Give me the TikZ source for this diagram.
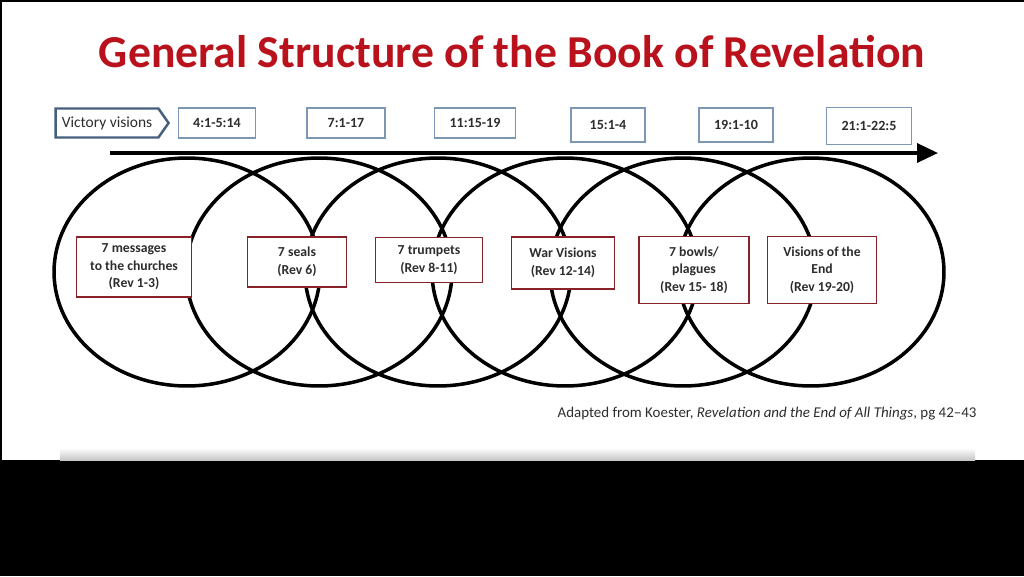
\documentclass[tikz,border=0pt]{standalone}
\usepackage{fontspec}
\setmainfont{Carlito}
\usetikzlibrary{shapes.symbols,arrows.meta,positioning}
\definecolor{titlered}{RGB}{185,18,28}
\definecolor{stagered}{RGB}{135,35,40}
\definecolor{verseblue}{RGB}{125,150,180}
\definecolor{victoryblue}{RGB}{70,95,125}
\definecolor{boxtext}{RGB}{45,45,45}

\begin{document}
\begin{tikzpicture}[
  x=0.02cm, y=-0.02cm,
  verse/.style={draw=verseblue,line width=0.9pt,fill=white,text=boxtext,font=\fontsize{8}{9}\selectfont\bfseries,minimum height=0.6cm,inner sep=1pt},
  stage/.style={draw=stagered,line width=1.1pt,fill=white,text=boxtext,align=center,font=\fontsize{7.8}{10}\selectfont\bfseries,inner sep=1pt},
  victory/.style={signal,signal to=east,signal pointer angle=110,draw=victoryblue,line width=1.4pt,fill=white,text=boxtext,font=\fontsize{8.8}{10}\selectfont,minimum width=2.26cm,minimum height=0.58cm,inner sep=1pt},
  era/.style={line width=2pt,x radius=2.66cm,y radius=2.28cm},
  ar/.style={line width=2pt,-{Triangle[length=0.42cm,width=0.38cm]}}
]
\useasboundingbox (0,0) rectangle (1024,576);
\fill[black] (0,0) rectangle (1024,576);
\fill[white] (2,2) rectangle (1024,460);
\shade[top color=white,bottom color=gray!45] (60,448) rectangle (975,460);

\node[font=\fontsize{26}{30}\selectfont\bfseries,text=titlered] (title) at (512,52) {General Structure of the Book of Revelation};

% victory visions row
\node[victory] (victory) at (107,123) {Victory visions};
\node[verse,minimum width=1.54cm] (v1) at (217,123) {4:1-5:14};
\node[verse,minimum width=1.56cm] (v2) at (346,123) {7:1-17};
\node[verse,minimum width=1.62cm] (v3) at (475,123) {11:15-19};
\node[verse,minimum width=1.48cm,minimum height=0.68cm] (v4) at (608,125) {15:1-4};
\node[verse,minimum width=1.48cm,minimum height=0.68cm] (v5) at (736,125) {19:1-10};
\node[verse,minimum width=1.7cm,minimum height=0.74cm] (v6) at (869,126) {21:1-22:5};

% overlapping cycles and time line
\foreach \cx in {187,319,438,565,683,811}
  \draw[era] (\cx,272) circle;
\coordinate (tl) at (110,153);
\coordinate (tr) at (938,153);
\draw[ar] (tl) -- (tr);

% septets
\node[stage,minimum width=2.3cm,minimum height=1.2cm] (s1) at (134,267) {7 messages\\to the churches\\(Rev 1-3)};
\node[stage,minimum width=1.98cm,minimum height=1.0cm] (s2) at (297,262) {7 seals\\(Rev 6)};
\node[stage,minimum width=2.14cm,minimum height=0.9cm] (s3) at (429,260) {7 trumpets\\(Rev 8-11)};
\node[stage,minimum width=2.06cm,minimum height=1.04cm] (s4) at (563,263) {War Visions\\(Rev 12-14)};
\node[stage,minimum width=2.2cm,minimum height=1.34cm] (s5) at (694,270) {7 bowls/\\plagues\\(Rev 15- 18)};
\node[stage,minimum width=2.18cm,minimum height=1.34cm] (s6) at (822,270) {Visions of the\\End\\(Rev 19-20)};

\node[font=\fontsize{8.5}{10}\selectfont,text=boxtext] (src) at (767,414) {Adapted from Koester, \textit{Revelation and the End of All Things}, pg 42--43};
\end{tikzpicture}
\end{document}
